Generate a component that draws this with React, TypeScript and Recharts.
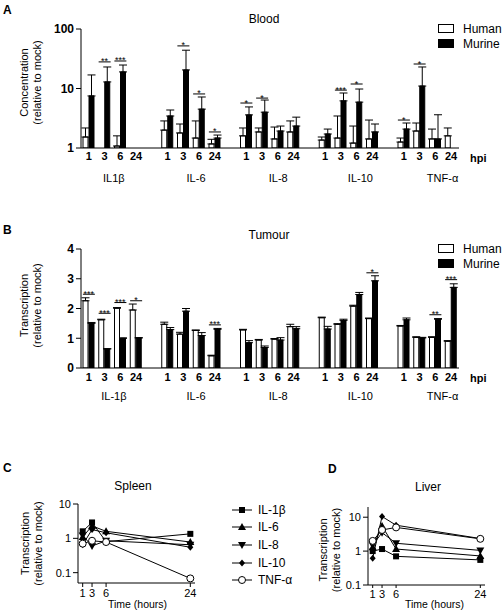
import React from 'react'
import { ComposedChart, LineChart, Bar, Line, ErrorBar, XAxis, YAxis, Legend } from 'recharts'

const FONT = '"Liberation Sans", Arial, Helvetica, sans-serif'

// time points (hpi) used in every group of panels A and B
const hours = ['1', '3', '6', '24']
const bloodGroups = ['IL1β', 'IL-6', 'IL-8', 'IL-10', 'TNF-α']
const tumourGroups = ['IL-1β', 'IL-6', 'IL-8', 'IL-10', 'TNF-α']

// A - Blood (concentration relative to mock), 4 values per cytokine
const bloodHuman = [1.53, null, 1.08, null, 2.0, 1.79, 1.47, 1.17, 1.6, 1.86, 1.42, 1.86, 1.36, 1.47, 1.21, 1.42, 1.26, 1.93, 1.42, 1.6]
const bloodHumanErr = [0.64, null, 0.52, null, 0.85, 0.74, 1.38, 0.23, 0.57, 0.31, 0.83, 0.99, 0.17, 1.98, 1.13, 1.53, 0.21, 0.7, 0.66, 0.57]
const bloodMurine = [7.5, 12.9, 19, null, 3.45, 20.5, 4.5, 1.47, 3.6, 4.0, 1.93, 2.34, 1.72, 6.2, 5.9, 1.86, 2.08, 11, 1.42, null]
const bloodMurineErr = [9.4, 10.1, 5.8, null, 0.9, 23.5, 2.7, 0.18, 1.3, 2.4, 0.41, 0.96, 0.36, 2.2, 3.9, 0.67, 0.55, 12, 2.2, null]
const bloodSig = [null, 28, 29, null, null, 52, 8.1, 1.86, 5.7, 6.9, null, null, null, 9.4, 11.9, null, 2.95, 25.8, null, null]
const bloodSigText = ['', '**', '***', '', '', '*', '*', '*', '*', '*', '', '', '', '***', '*', '', '*', '*', '', '']

// B - Tumour (transcription relative to mock)
const tumourHuman = [2.26, 1.62, 2.01, 1.95, 1.47, 1.14, 1.26, 0.41, 1.28, 0.94, 0.97, 1.39, 1.69, 1.47, 2.08, 1.66, 1.41, 1.03, 1.03, 0.9]
const tumourHumanErr = [0.1, 0.02, 0.02, 0.2, 0.07, 0.06, 0.02, 0.02, 0.02, 0.02, 0.02, 0.08, 0.02, 0.02, 0.03, 0.02, 0.02, 0.02, 0.02, 0.02]
const tumourMurine = [1.5, 0.64, 1.0, 1.01, 1.29, 1.91, 1.09, 1.3, 0.85, 0.69, 0.94, 1.32, 1.31, 1.6, 2.47, 2.93, 1.62, 1.01, 1.64, 2.71]
const tumourMurineErr = [0.03, 0.01, 0.01, 0.01, 0.07, 0.09, 0.1, 0.03, 0.07, 0.05, 0.08, 0.07, 0.09, 0.04, 0.07, 0.17, 0.06, 0.02, 0.02, 0.12]
const tumourSig = [2.48, 1.84, 2.2, 2.26, null, null, null, 1.45, null, null, null, null, null, null, null, 3.2, null, null, 1.79, 2.97]
const tumourSigText = ['***', '***', '***', '*', '', '', '', '***', '', '', '', '', '', '', '', '*', '', '', '**', '***']

// C / D - time course
const times = [1, 3, 6, 24]
const spleenIL1b = [1.6, 2.9, 0.8, 1.35]
const spleenIL6 = [1.1, 2.3, 1.6, 0.78]
const spleenIL8 = [1.2, 0.6, 0.85, 0.65]
const spleenIL10 = [0.65, 1.8, 1.45, 0.55]
const spleenTNF = [0.7, 0.85, 0.78, 0.068]
const liverIL1b = [1.0, 1.15, 0.7, 0.55]
const liverIL6 = [1.3, 5.5, 1.15, 0.72]
const liverIL8 = [1.5, 3.5, 1.7, 1.05]
const liverIL10 = [0.62, 10.5, 5.8, 2.35]
const liverTNF = [2.0, 4.2, 5.0, 2.3]

const seriesMeta = [
  { key: 'il1b', name: 'IL-1β', shape: 'square' },
  { key: 'il6', name: 'IL-6', shape: 'up' },
  { key: 'il8', name: 'IL-8', shape: 'down' },
  { key: 'il10', name: 'IL-10', shape: 'diamond' },
  { key: 'tnf', name: 'TNF-α', shape: 'circle' },
]

function buildBarRows(groups: string[], human: any[], humanErr: any[], murine: any[], murineErr: any[], sig: any[], sigText: string[]) {
  const rows: any[] = []
  groups.forEach((g, gi) => {
    hours.forEach((h, hi) => {
      const i = gi * 4 + hi
      rows.push({
        key: `${g}-${h}`,
        hour: h,
        human: human[i],
        humanErr: human[i] == null ? null : [0, humanErr[i]],
        murine: murine[i],
        murineErr: murine[i] == null ? null : [0, murineErr[i]],
        sig: sig[i],
        sigText: sigText[i],
      })
    })
    if (gi < groups.length - 1) rows.push({ key: `gap-${gi}`, hour: '' })
  })
  return rows
}

function buildLineRows(a: number[], b: number[], c: number[], d: number[], e: number[]) {
  return times.map((t, i) => ({ t, il1b: a[i], il6: b[i], il8: c[i], il10: d[i], tnf: e[i] }))
}

const bloodRows = buildBarRows(bloodGroups, bloodHuman, bloodHumanErr, bloodMurine, bloodMurineErr, bloodSig, bloodSigText)
const tumourRows = buildBarRows(tumourGroups, tumourHuman, tumourHumanErr, tumourMurine, tumourMurineErr, tumourSig, tumourSigText)
const spleenRows = buildLineRows(spleenIL1b, spleenIL6, spleenIL8, spleenIL10, spleenTNF)
const liverRows = buildLineRows(liverIL1b, liverIL6, liverIL8, liverIL10, liverTNF)

// rotated two-line axis title
function YTitle(props: any) {
  const { viewBox, lines, xs, shift = 0 } = props
  if (!viewBox) return null
  const cy = viewBox.y + viewBox.height / 2 + shift
  return (
    <g>
      {lines.map((l: string, i: number) => (
        <text key={i} x={xs[i]} y={cy} transform={`rotate(-90 ${xs[i]} ${cy})`} textAnchor="middle" fontSize={11} fontFamily={FONT} fill="#000">
          {l}
        </text>
      ))}
    </g>
  )
}

// significance bar + asterisks
function SigMark(props: any) {
  const { cx, cy, payload } = props
  if (cy == null || cx == null || !payload || !payload.sigText) return null
  return (
    <g>
      <line x1={cx - 6} x2={cx + 6} y1={cy} y2={cy} stroke="#000" strokeWidth={1} />
      <text x={cx} y={cy + 2.5} textAnchor="middle" fontSize={9} fontFamily={FONT} fill="#000">{payload.sigText}</text>
    </g>
  )
}

function Marker({ shape, cx, cy }: any) {
  if (cx == null || cy == null) return null
  if (shape === 'square') return <rect x={cx - 3} y={cy - 3} width={6} height={6} fill="#000" />
  if (shape === 'up') return <polygon points={`${cx},${cy - 4} ${cx + 4},${cy + 3} ${cx - 4},${cy + 3}`} fill="#000" />
  if (shape === 'down') return <polygon points={`${cx},${cy + 4} ${cx + 4},${cy - 3} ${cx - 4},${cy - 3}`} fill="#000" />
  if (shape === 'diamond') return <polygon points={`${cx},${cy - 3.5} ${cx + 3},${cy} ${cx},${cy + 3.5} ${cx - 3},${cy}`} fill="#000" />
  return <circle cx={cx} cy={cy} r={3.5} fill="#fff" stroke="#000" strokeWidth={1} />
}

function BoxLegend(props: any) {
  const items = (props.payload || []).filter((p: any) => p.dataKey === 'human' || p.dataKey === 'murine')
  return (
    <div style={{ fontFamily: FONT, fontSize: 12, color: '#000' }}>
      {items.map((p: any) => (
        <div key={p.dataKey} style={{ display: 'flex', alignItems: 'center', height: 15 }}>
          <div style={{ width: 14, height: 7, border: '1px solid #000', background: p.dataKey === 'human' ? '#fff' : '#000', marginRight: 9 }} />
          <span>{p.value}</span>
        </div>
      ))}
    </div>
  )
}

function MarkerLegend(props: any) {
  const order = seriesMeta.map((m) => m.key)
  const items = [...(props.payload || [])].sort((a: any, b: any) => order.indexOf(a.dataKey) - order.indexOf(b.dataKey))
  return (
    <div style={{ fontFamily: FONT, fontSize: 12, color: '#000' }}>
      {items.map((p: any) => {
        const meta = seriesMeta.find((m) => m.key === p.dataKey)
        return (
          <div key={p.dataKey} style={{ display: 'flex', alignItems: 'center', height: 17.6 }}>
            <svg width={20} height={12} style={{ marginRight: 6 }}>
              <line x1={0} x2={20} y1={6} y2={6} stroke="#000" strokeWidth={1} />
              <Marker shape={meta ? meta.shape : 'circle'} cx={10} cy={6} />
            </svg>
            <span>{p.value}</span>
          </div>
        )
      })}
    </div>
  )
}

const tickBold = { fill: '#000', fontSize: 11, fontWeight: 'bold', fontFamily: FONT }
const tickYBold = { fill: '#000', fontSize: 12, fontWeight: 'bold', fontFamily: FONT }
const tickPlain = { fill: '#000', fontSize: 11, fontFamily: FONT }
const axisStroke = { stroke: '#000', strokeWidth: 1 }

function BarPanel({ rows, groups, yScale, yDomain, yTicks, titleLines, titleShift, tickGap, groupGap }: any) {
  return (
    <ComposedChart width={504} height={200} data={rows} margin={{ top: 29, right: 45, bottom: 7, left: 43 }} barSize={5} barGap={1}>
      <XAxis
        dataKey="key"
        interval={0}
        tickLine={false}
        tickSize={tickGap}
        axisLine={axisStroke}
        tick={tickBold}
        tickFormatter={(_v: any, i: number) => (rows[i] ? rows[i].hour : '')}
        height={20}
        label={{ value: 'hpi', position: 'right', offset: 11, style: { fontWeight: 'bold', fontSize: 11, fill: '#000', fontFamily: FONT } }}
      />
      <XAxis
        xAxisId="grp"
        type="number"
        domain={[0, 24]}
        ticks={[2, 7, 12, 17, 22]}
        interval={0}
        allowDataOverflow
        axisLine={false}
        tickLine={false}
        tickSize={groupGap}
        tick={tickPlain}
        tickFormatter={(v: number) => groups[Math.round((v - 2) / 5)]}
        height={25}
      />
      <YAxis
        scale={yScale}
        domain={yDomain}
        ticks={yTicks}
        allowDataOverflow
        interval={0}
        width={38}
        tickSize={5}
        axisLine={axisStroke}
        tickLine={axisStroke}
        tick={tickYBold}
        label={<YTitle lines={titleLines} xs={[28, 41]} shift={titleShift} />}
      />
      <Bar dataKey="human" name="Human" fill="#fff" stroke="#000" strokeWidth={1} isAnimationActive={false}>
        <ErrorBar dataKey="humanErr" direction="y" width={4} stroke="#000" strokeWidth={1} />
      </Bar>
      <Bar dataKey="murine" name="Murine" fill="#000" stroke="#000" strokeWidth={1} isAnimationActive={false}>
        <ErrorBar dataKey="murineErr" direction="y" width={4} stroke="#000" strokeWidth={1} />
      </Bar>
      <Line dataKey="sig" stroke="none" legendType="none" dot={(p: any) => <SigMark key={p.key || p.index} {...p} />} activeDot={false} isAnimationActive={false} />
      <Legend layout="vertical" align="center" verticalAlign="middle" content={<BoxLegend />} wrapperStyle={{ left: 438, top: 21, width: 70 }} />
    </ComposedChart>
  )
}

function LinePanel({ rows, width, margin, yDomain, xHeight, xTickGap, titleXs, titleShift, labelDx, legend }: any) {
  return (
    <LineChart width={width} height={133} data={rows} margin={margin}>
      <XAxis
        dataKey="t"
        type="number"
        domain={[0, 25]}
        ticks={times}
        interval={0}
        allowDataOverflow
        height={xHeight}
        tickSize={xTickGap}
        axisLine={axisStroke}
        tickLine={axisStroke}
        tick={tickPlain}
        label={{ value: 'Time (hours)', position: 'insideBottom', offset: 5, dx: labelDx, style: { fontSize: 10.5, fill: '#000', fontFamily: FONT } }}
      />
      <YAxis
        scale="log"
        domain={yDomain}
        ticks={[0.1, 1, 10]}
        allowDataOverflow
        interval={0}
        width={38}
        tickSize={5}
        axisLine={axisStroke}
        tickLine={axisStroke}
        tick={tickPlain}
        tickFormatter={(v: number) => String(v)}
        label={<YTitle lines={['Transcription', '(relative to mock)']} xs={titleXs} shift={titleShift} />}
      />
      {seriesMeta.map((m) => (
        <Line
          key={m.key}
          dataKey={m.key}
          name={m.name}
          stroke="#000"
          strokeWidth={1}
          dot={(p: any) => <Marker key={`${m.key}-${p.index}`} shape={m.shape} cx={p.cx} cy={p.cy} />}
          activeDot={false}
          isAnimationActive={false}
        />
      ))}
      {legend ? (
        <Legend layout="vertical" align="center" verticalAlign="middle" content={<MarkerLegend />} wrapperStyle={{ left: 232, top: 21, width: 90 }} />
      ) : null}
    </LineChart>
  )
}

export default function App() {
  return (
    <div style={{ position: 'absolute', left: 0, top: 0, width: 504, height: 613, background: '#fff', fontFamily: FONT, overflow: 'hidden' }}>
      <svg width={504} height={613} style={{ position: 'absolute', left: 0, top: 0 }}>
        <g fontFamily={FONT} fill="#000">
          <text x={3} y={14} fontSize={12} fontWeight="bold">A</text>
          <text x={264} y={23} fontSize={12} textAnchor="middle">Blood</text>
          <text x={3} y={234} fontSize={12} fontWeight="bold">B</text>
          <text x={269} y={239} fontSize={12} textAnchor="middle">Tumour</text>
          <text x={3} y={472} fontSize={12} fontWeight="bold">C</text>
          <text x={133} y={490} fontSize={12} textAnchor="middle">Spleen</text>
          <text x={328} y={473} fontSize={12} fontWeight="bold">D</text>
          <text x={428} y={491} fontSize={12} textAnchor="middle">Liver</text>
        </g>
      </svg>
      <div style={{ position: 'absolute', left: 0, top: 0 }}>
        <BarPanel
          rows={bloodRows}
          groups={bloodGroups}
          yScale="log"
          yDomain={[1, 100]}
          yTicks={[1, 10, 100]}
          titleLines={['Concentration', '(relative to mock)']}
          titleShift={-6}
          tickGap={2}
          groupGap={4}
        />
      </div>
      <div style={{ position: 'absolute', left: 0, top: 220 }}>
        <BarPanel
          rows={tumourRows}
          groups={tumourGroups}
          yScale="linear"
          yDomain={[0, 4]}
          yTicks={[0, 1, 2, 3, 4]}
          titleLines={['Transcription', '(relative to mock)']}
          titleShift={-3}
          tickGap={3}
          groupGap={2}
        />
      </div>
      <div style={{ position: 'absolute', left: 0, top: 480 }}>
        <LinePanel
          rows={spleenRows}
          width={330}
          margin={{ top: 24, right: 135, bottom: 0, left: 40 }}
          yDomain={[0.05, 10]}
          xHeight={30}
          xTickGap={4}
          titleXs={[29, 42]}
          titleShift={0}
          labelDx={1}
          legend
        />
      </div>
      <div style={{ position: 'absolute', left: 280, top: 480 }}>
        <LinePanel
          rows={liverRows}
          width={224}
          margin={{ top: 27, right: 19, bottom: 0, left: 50 }}
          yDomain={[0.1, 20]}
          xHeight={28}
          xTickGap={3}
          titleXs={[47, 60]}
          titleShift={4}
          labelDx={8}
          legend={false}
        />
      </div>
    </div>
  )
}
